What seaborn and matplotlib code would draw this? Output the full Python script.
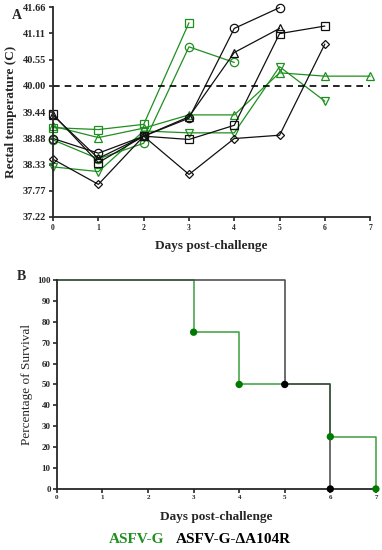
import matplotlib
matplotlib.use("Agg")
import matplotlib.pyplot as plt
import seaborn as sns
import pandas as pd

# panel A: rectal temperature per animal
days = [0, 1, 2, 3, 4, 5, 6, 7]
g_square = [39.11, 39.07, 39.18, 41.33]
g_circle = [38.85, 38.45, 38.78, 40.82, 40.49]
g_triangle = [39.14, 38.90, 39.10, 39.38, 39.38, 40.27, 40.20, 40.20]
g_invtri = [38.28, 38.18, 39.04, 39.00, 39.00, 40.40, 39.67]
b_square = [39.39, 38.37, 38.93, 38.86, 39.16, 41.10, 41.26]
b_circle = [38.88, 38.57, 38.93, 39.31, 41.21, 41.65]
b_triangle = [39.37, 38.46, 38.93, 39.34, 40.70, 41.21]
b_diamond = [38.44, 37.91, 38.93, 38.12, 38.88, 38.95, 40.88]
temp_ticks = [37.22, 37.77, 38.33, 38.88, 39.44, 40.00, 40.55, 41.11, 41.66]

# panel B: survival
g_surv_days = [0, 3, 4, 6, 7]
g_surv = [100, 75, 50, 25, 0]
b_surv_days = [0, 5, 6]
b_surv = [100, 50, 0]

green = "#1f8f1f"
black = "#111111"
serif = "Liberation Serif"

sns.set_style("ticks")
plt.rcParams['font.family'] = [serif, 'DejaVu Sans']

fig = plt.figure(figsize=(3.82, 5.50), dpi=100)
ax = fig.add_axes([0.139, 0.6055, 0.830, 0.3815])
ax1 = fig.add_axes([0.149, 0.111, 0.835, 0.380])

animals = [
    (g_square, "s", green), (g_circle, "o", green),
    (g_triangle, "^", green), (g_invtri, "v", green),
    (b_square, "s", black), (b_circle, "o", black),
    (b_triangle, "^", black), (b_diamond, "D", black),
]
for vals, mk, col in animals:
    df = pd.DataFrame({"day": days[:len(vals)], "temp": vals})
    ms = 4.5 if mk == "D" else 6
    sns.lineplot(data=df, x="day", y="temp", ax=ax, color=col, lw=0.9,
                 marker=mk, markersize=ms, markerfacecolor="none",
                 markeredgecolor=col, markeredgewidth=0.9, clip_on=False)

ax.axhline(40.0, color="black", ls=(0, (4, 3)), lw=1.2)
ax.set_xlim(0, 7)
ax.set_ylim(37.22, 41.66)
ax.set_yticks(temp_ticks)
ax.set_yticklabels([f"{t:.2f}" for t in temp_ticks], fontweight="bold", fontsize=7.5)
ax.set_xticks(days)
ax.set_xticklabels([str(d) for d in days], fontweight="bold", fontsize=5.5)
ax.set_xlabel("Days post-challenge", fontweight="bold", fontsize=9.5, labelpad=6)
ax.set_ylabel("Rectal temperature (C)", fontweight="bold", fontsize=9.5, labelpad=4)
for s in ["left", "bottom"]:
    ax.spines[s].set_linewidth(1.3)
sns.despine(ax=ax)
ax.tick_params(width=1.2, length=3, pad=2)
fig.text(0.03, 0.965, "A", fontweight="bold", fontsize=10)

# survival curves
dg = pd.DataFrame({"day": g_surv_days, "surv": g_surv})
db = pd.DataFrame({"day": b_surv_days, "surv": b_surv})
sns.lineplot(data=dg, x="day", y="surv", ax=ax1, color="#3a9e3a", lw=1.1,
             drawstyle="steps-post", clip_on=False)
sns.lineplot(data=db, x="day", y="surv", ax=ax1, color="#444444", lw=1.1,
             drawstyle="steps-post", clip_on=False)
sns.scatterplot(data=dg.iloc[1:], x="day", y="surv", ax=ax1, color="#007a00",
                s=28, edgecolor="none", clip_on=False, zorder=5)
sns.scatterplot(data=db.iloc[1:], x="day", y="surv", ax=ax1, color="black",
                s=28, edgecolor="none", clip_on=False, zorder=5)
ax1.set_xlim(0, 7)
ax1.set_ylim(0, 100)
ax1.set_yticks(range(0, 101, 10))
ax1.set_yticklabels([str(v) for v in range(0, 101, 10)], fontweight="bold", fontsize=6.5)
ax1.set_xticks(days)
ax1.set_xticklabels([str(d) for d in days], fontweight="bold", fontsize=5)
ax1.set_xlabel("Days post-challenge", fontweight="bold", fontsize=9.5, labelpad=8)
ax1.set_ylabel("Percentage of Survival", fontsize=9.5, labelpad=3)
for s in ["left", "bottom"]:
    ax1.spines[s].set_linewidth(1.3)
sns.despine(ax=ax1)
ax1.tick_params(width=1.2, length=3, pad=1.5)
fig.text(0.045, 0.49, "B", fontweight="bold", fontsize=10)

fig.text(0.429, 0.012, "ASFV-G", color=green, fontweight="bold", fontsize=11, ha="right")
fig.text(0.461, 0.012, "ASFV-G-ΔA104R", color="black", fontweight="bold", fontsize=11, ha="left")

fig.savefig("out.png", dpi=100)
